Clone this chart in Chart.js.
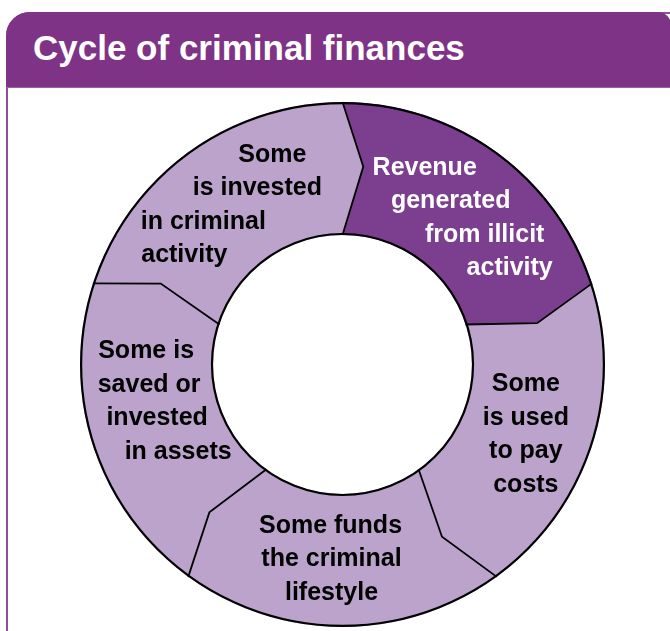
<!DOCTYPE html>
<html>
<head>
<meta charset="utf-8">
<script src="https://cdn.jsdelivr.net/npm/chart.js@4.4.1/dist/chart.umd.min.js"></script>
<style>
  html, body { margin: 0; padding: 0; background: #ffffff; }
  body { width: 670px; height: 631px; position: relative; overflow: hidden; font-family: "Liberation Sans", Arial, sans-serif; }
  #frame {
    position: absolute; left: 6px; top: 12px; width: 720px; height: 622px;
    border: 2px solid #8E4E9A; border-radius: 24px 0 13px 0; background: #fff;
    box-sizing: border-box;
  }
  #header {
    position: absolute; left: 6px; top: 12px; width: 665px; height: 76px; background: #7F3386;
    border-radius: 24px 13px 0 0; border-bottom: 1px solid #9B5FA6; box-sizing: border-box;
  }
  #title {
    position: absolute; left: 33px; top: 30px; margin: 0; color: #fff;
    font: bold 35px/35px "Liberation Sans", Arial, sans-serif; white-space: nowrap;
  }
  #chart { position: absolute; left: 0; top: 0; }
</style>
</head>
<body>
<div id="frame"></div>
<div id="header"></div>
<h1 id="title">Cycle of criminal finances</h1>
<canvas id="chart" width="670" height="631"></canvas>
<script>
// ---- data ----
const categories = [
  'Revenue generated from illicit activity',
  'Some is used to pay costs',
  'Some funds the criminal lifestyle',
  'Some is saved or invested in assets',
  'Some is invested in criminal activity'
];
const labelLines = [
  ['Revenue', 'generated', 'from illicit', 'activity'],
  ['Some', 'is used', 'to pay', 'costs'],
  ['Some funds', 'the criminal', 'lifestyle'],
  ['Some is', 'saved or', 'invested', 'in assets'],
  ['Some', 'is invested', 'in criminal', 'activity']
];
const values = [1, 1, 1, 1, 1];

// ---- styles / layout (not data) ----
const segColors = ['#7C3E8F', '#BBA3CC', '#BBA3CC', '#BBA3CC', '#BBA3CC'];
const textColors = ['#FFFFFF', '#000000', '#000000', '#000000', '#000000'];
// per-line offsets from each segment's mid point (x offsets, first-baseline offset)
const labelLayout = [
  { dx: [-33, -7, 27, 52], dy0: -31 },
  { dx: [-3, -3, -3, -3], dy0: -34 },
  { dx: [-12, -11, -11], dy0: -27.5 },
  { dx: [-10, -7, 1, 22], dy0: -67 },
  { dx: [45, 30, -24, -43], dy0: -44 }
];
const LINE_H = 33.5;
const TIP_ANGLE = 6 * Math.PI / 180;

const ringPlugin = {
  id: 'ringDecor',
  afterDatasetsDraw(chart) {
    const ctx = chart.ctx;
    const arcs = chart.getDatasetMeta(0).data;
    const n = arcs.length;
    const eps = 0.006;
    ctx.save();
    // chevron fills
    arcs.forEach((arc, i) => {
      const p = arc.getProps(['x', 'y', 'startAngle', 'innerRadius', 'outerRadius'], true);
      const pt = (ang, r) => [p.x + r * Math.cos(ang), p.y + r * Math.sin(ang)];
      const rt = (p.innerRadius + p.outerRadius) / 2 + 3;
      const a = p.startAngle;
      const o1 = pt(a - eps, p.outerRadius - 0.5), o2 = pt(a, p.outerRadius - 0.5);
      const t = pt(a + TIP_ANGLE, rt);
      const i2 = pt(a, p.innerRadius + 0.5), i1 = pt(a - eps, p.innerRadius + 0.5);
      ctx.beginPath();
      ctx.moveTo(o1[0], o1[1]); ctx.lineTo(o2[0], o2[1]); ctx.lineTo(t[0], t[1]);
      ctx.lineTo(i2[0], i2[1]); ctx.lineTo(i1[0], i1[1]); ctx.closePath();
      ctx.fillStyle = segColors[(i - 1 + n) % n];
      ctx.fill();
    });
    // chevron strokes
    ctx.strokeStyle = '#000';
    ctx.lineWidth = 1.8;
    ctx.lineJoin = 'miter';
    arcs.forEach((arc) => {
      const p = arc.getProps(['x', 'y', 'startAngle', 'innerRadius', 'outerRadius'], true);
      const pt = (ang, r) => [p.x + r * Math.cos(ang), p.y + r * Math.sin(ang)];
      const rt = (p.innerRadius + p.outerRadius) / 2 + 3;
      const a = p.startAngle;
      const o = pt(a, p.outerRadius), t = pt(a + TIP_ANGLE, rt), inn = pt(a, p.innerRadius);
      ctx.beginPath();
      ctx.moveTo(o[0], o[1]); ctx.lineTo(t[0], t[1]); ctx.lineTo(inn[0], inn[1]);
      ctx.stroke();
    });
    // outer & inner outlines
    const p0 = arcs[0].getProps(['x', 'y', 'innerRadius', 'outerRadius'], true);
    ctx.lineWidth = 2.2;
    ctx.beginPath(); ctx.arc(p0.x, p0.y, p0.outerRadius - 1.1, 0, Math.PI * 2); ctx.stroke();
    ctx.beginPath(); ctx.arc(p0.x, p0.y, p0.innerRadius + 1.1, 0, Math.PI * 2); ctx.stroke();
    // labels
    ctx.font = 'bold 25px "Liberation Sans", Arial, sans-serif';
    ctx.textAlign = 'center';
    ctx.textBaseline = 'alphabetic';
    arcs.forEach((arc, i) => {
      const p = arc.getProps(['x', 'y', 'startAngle', 'endAngle', 'innerRadius', 'outerRadius'], true);
      const mid = (p.startAngle + p.endAngle) / 2;
      const r = (p.innerRadius + p.outerRadius) / 2;
      const ax = p.x + r * Math.cos(mid), ay = p.y + r * Math.sin(mid);
      const lay = labelLayout[i];
      ctx.fillStyle = textColors[i];
      labelLines[i].forEach((line, k) => {
        ctx.fillText(line, ax + lay.dx[k], ay + lay.dy0 + k * LINE_H);
      });
    });
    ctx.restore();
  }
};

new Chart(document.getElementById('chart'), {
  type: 'doughnut',
  data: {
    labels: categories,
    datasets: [{
      data: values,
      backgroundColor: segColors,
      borderWidth: 0,
      hoverOffset: 0
    }]
  },
  options: {
    responsive: false,
    devicePixelRatio: 1,
    animation: false,
    cutout: '49.3%',
    rotation: 0,
    layout: { padding: { top: 102, bottom: 4, left: 80, right: 65 } },
    plugins: { legend: { display: false }, tooltip: { enabled: false }, title: { display: false } },
    events: []
  },
  plugins: [ringPlugin]
});
</script>
</body>
</html>
